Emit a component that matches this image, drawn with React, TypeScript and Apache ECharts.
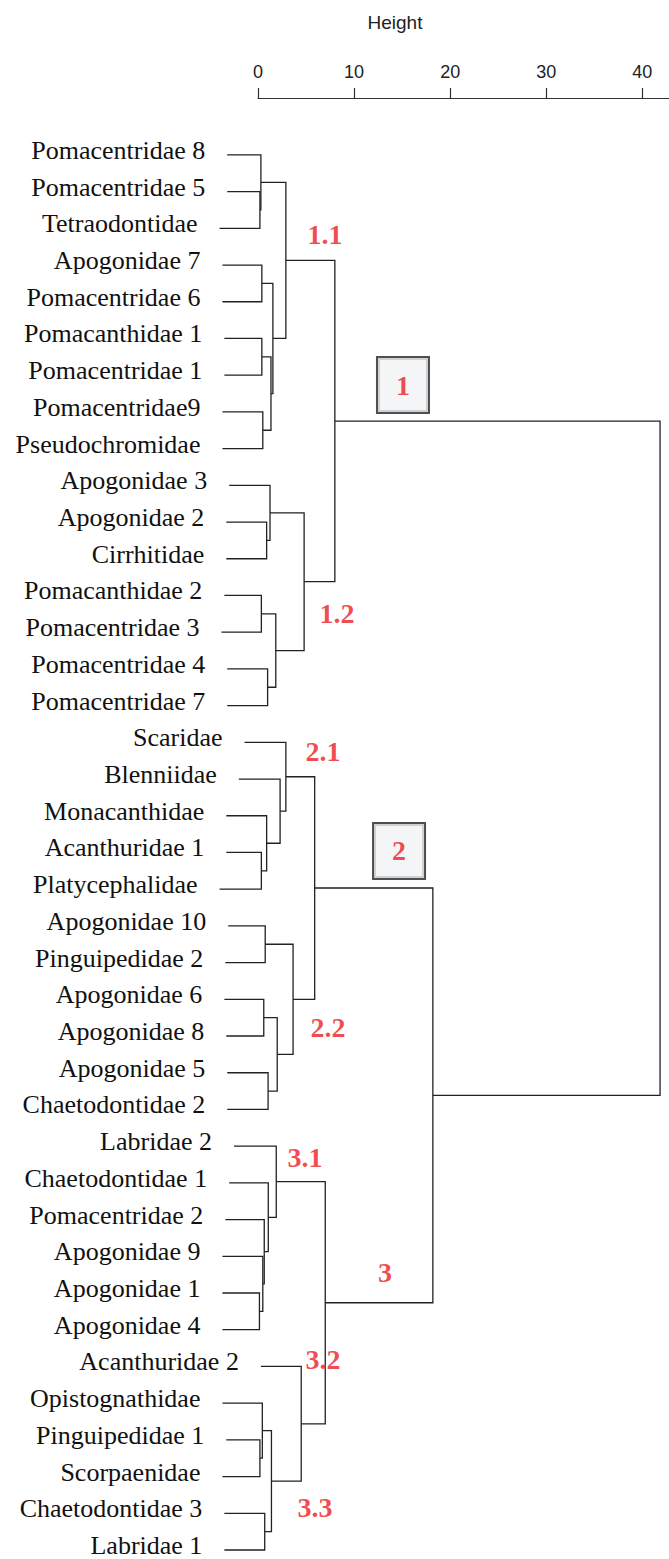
import React, { useEffect, useRef } from "react";
import * as echarts from "echarts";

// Leaves in display order (top to bottom)
const leaves: string[] = [
  "Pomacentridae 8", "Pomacentridae 5", "Tetraodontidae", "Apogonidae 7", "Pomacentridae 6",
  "Pomacanthidae 1", "Pomacentridae 1", "Pomacentridae9", "Pseudochromidae", "Apogonidae 3",
  "Apogonidae 2", "Cirrhitidae", "Pomacanthidae 2", "Pomacentridae 3", "Pomacentridae 4",
  "Pomacentridae 7", "Scaridae", "Blenniidae", "Monacanthidae", "Acanthuridae 1",
  "Platycephalidae", "Apogonidae 10", "Pinguipedidae 2", "Apogonidae 6", "Apogonidae 8",
  "Apogonidae 5", "Chaetodontidae 2", "Labridae 2", "Chaetodontidae 1", "Pomacentridae 2",
  "Apogonidae 9", "Apogonidae 1", "Apogonidae 4", "Acanthuridae 2", "Opistognathidae",
  "Pinguipedidae 1", "Scorpaenidae", "Chaetodontidae 3", "Labridae 1",
];

// Height at which each leaf's line starts (hanging leaves)
const leafStart: number[] = [
  -3.2, -3.2, -4.0, -3.7, -3.7, -3.5, -3.5, -3.7, -3.7, -3.0,
  -3.3, -3.3, -3.5, -3.8, -3.2, -3.2, -1.4, -2.0, -3.3, -3.3,
  -4.0, -3.1, -3.4, -3.5, -3.3, -3.2, -3.2, -2.5, -3.0, -3.4,
  -3.7, -3.7, -3.7, 0.3, -3.7, -3.3, -3.7, -3.5, -3.5,
];

// Merge table, like R's hclust: negative = leaf (1-based), positive = earlier merge (1-based)
const merges: [number, number, number][] = [
  [-2, -3, 0.2],
  [-1, 1, 0.3],
  [-4, -5, 0.4],
  [-6, -7, 0.4],
  [-8, -9, 0.5],
  [4, 5, 1.35],
  [3, 6, 1.55],
  [2, 7, 2.9],
  [-11, -12, 0.9],
  [-10, 9, 1.25],
  [-13, -14, 0.35],
  [-15, -16, 1.0],
  [11, 12, 1.85],
  [10, 13, 4.8],
  [8, 14, 8.0],
  [-20, -21, 0.35],
  [-19, 16, 0.9],
  [-18, 17, 2.3],
  [-17, 18, 2.9],
  [-22, -23, 0.75],
  [-24, -25, 0.6],
  [-26, -27, 1.05],
  [21, 22, 2.0],
  [20, 23, 3.65],
  [19, 24, 5.9],
  [-32, -33, 0.15],
  [-31, 26, 0.5],
  [-30, 27, 0.65],
  [-29, 28, 1.07],
  [-28, 29, 1.9],
  [-36, -37, 0.2],
  [-35, 31, 0.45],
  [-38, -39, 0.7],
  [32, 33, 1.4],
  [-34, 34, 4.5],
  [30, 35, 7.0],
  [25, 36, 18.2],
  [15, 37, 41.85],
];

const xTicks: number[] = [0, 10, 20, 30, 40];

const clusterLabels: string[] = ["1.1", "1.2", "2.1", "2.2", "3.1", "3", "3.2", "3.3"];
const clusterLabelPos: [number, number][] = [
  [6.97, 2.18], [8.22, 12.48], [6.77, 16.26], [7.29, 23.78],
  [4.89, 27.3], [13.22, 30.45], [6.77, 32.8], [5.93, 36.83],
];
const groupLabels: string[] = ["1", "2"];
const groupLabelPos: [number, number][] = [[15.09, 6.27], [14.68, 18.96]];

function buildSegments(): number[][] {
  const nodeY: number[] = [];
  const nodeH: number[] = [];
  const yOf = (r: number) => (r < 0 ? -r - 1 : nodeY[r - 1]);
  const hOf = (r: number) => (r < 0 ? leafStart[-r - 1] : nodeH[r - 1]);
  return merges.map(([a, b, h]) => {
    const ya = yOf(a);
    const yb = yOf(b);
    const seg = [h, ya, yb, hOf(a), hOf(b)];
    nodeY.push((ya + yb) / 2);
    nodeH.push(h);
    return seg;
  });
}

const RED = "#ec1c24";
const LINE = "#222222";

export default function App() {
  const ref = useRef<HTMLDivElement>(null);
  useEffect(() => {
    document.body.style.margin = "0";
    if (!ref.current) return;
    const chart = echarts.init(ref.current, null, { renderer: "svg" });
    const segments = buildSegments();
    const option: any = {
      animation: false,
      grid: { left: 258, right: 0, top: 98, bottom: 9 },
      xAxis: {
        type: "value",
        position: "top",
        min: 0,
        max: 42.78,
        interval: 10,
        axisLine: { show: true, onZero: false, lineStyle: { color: "#333", width: 1.2 } },
        axisTick: { show: true, length: 10, customValues: xTicks, lineStyle: { color: "#333", width: 1.2 } },
        axisLabel: {
          customValues: xTicks,
          fontSize: 18,
          color: "#222",
          fontFamily: "Liberation Sans, Arial, sans-serif",
          margin: 17,
        },
        splitLine: { show: false },
      },
      yAxis: {
        type: "value",
        inverse: true,
        min: -1.55,
        max: 38,
        show: false,
      },
      graphic: [
        {
          type: "text",
          x: 395,
          y: 22,
          style: {
            text: "Height",
            align: "center",
            verticalAlign: "middle",
            font: '19px "Liberation Sans", Arial, sans-serif',
            fill: "#222",
          },
        },
      ],
      series: [
        {
          type: "custom",
          silent: true,
          clip: false,
          encode: { x: [0, 3, 4], y: [1, 2] },
          data: segments,
          renderItem: (params: any, api: any) => {
            const h = api.value(0);
            const ya = api.value(1);
            const yb = api.value(2);
            const ha = api.value(3);
            const hb = api.value(4);
            const p1 = api.coord([ha, ya]);
            const p2 = api.coord([h, ya]);
            const p3 = api.coord([h, yb]);
            const p4 = api.coord([hb, yb]);
            return {
              type: "polyline",
              shape: { points: [p1, p2, p3, p4] },
              style: { stroke: LINE, lineWidth: 1.3, fill: null },
            };
          },
        },
        {
          type: "custom",
          silent: true,
          clip: false,
          encode: { x: 0, y: 1 },
          data: leaves.map((_, i) => [leafStart[i], i]),
          renderItem: (params: any, api: any) => {
            const p = api.coord([api.value(0), api.value(1)]);
            return {
              type: "text",
              x: p[0] - 22,
              y: p[1] - 4.5,
              style: {
                text: leaves[params.dataIndex],
                align: "right",
                verticalAlign: "middle",
                lineHeight: 20,
                font: '26px "Liberation Serif", "Times New Roman", serif',
                fill: "#111",
              },
            };
          },
        },
        {
          type: "scatter",
          silent: true,
          symbolSize: 1,
          itemStyle: { color: "rgba(0,0,0,0)" },
          data: clusterLabelPos.map((p, i) => ({ value: p, name: clusterLabels[i] })),
          label: {
            show: true,
            position: "inside",
            formatter: "{b}",
            color: RED,
            fontSize: 28,
            fontWeight: "bold",
            fontFamily: "Liberation Serif, Times New Roman, serif",
          },
        },
        {
          type: "scatter",
          silent: true,
          symbolSize: 1,
          itemStyle: { color: "rgba(0,0,0,0)" },
          data: groupLabelPos.map((p, i) => ({ value: p, name: groupLabels[i] })),
          label: {
            show: true,
            position: "inside",
            formatter: "{b}",
            color: RED,
            fontSize: 28,
            fontWeight: "bold",
            fontFamily: "Liberation Serif, Times New Roman, serif",
            backgroundColor: "#f1f2f4",
            borderColor: "#222",
            borderWidth: 2,
            width: 50,
            height: 54,
            lineHeight: 54,
            align: "center",
            verticalAlign: "middle",
            padding: 0,
          },
        },
      ],
    };
    chart.setOption(option);
    return () => chart.dispose();
  }, []);
  return <div ref={ref} style={{ width: 669, height: 1559 }} />;
}
